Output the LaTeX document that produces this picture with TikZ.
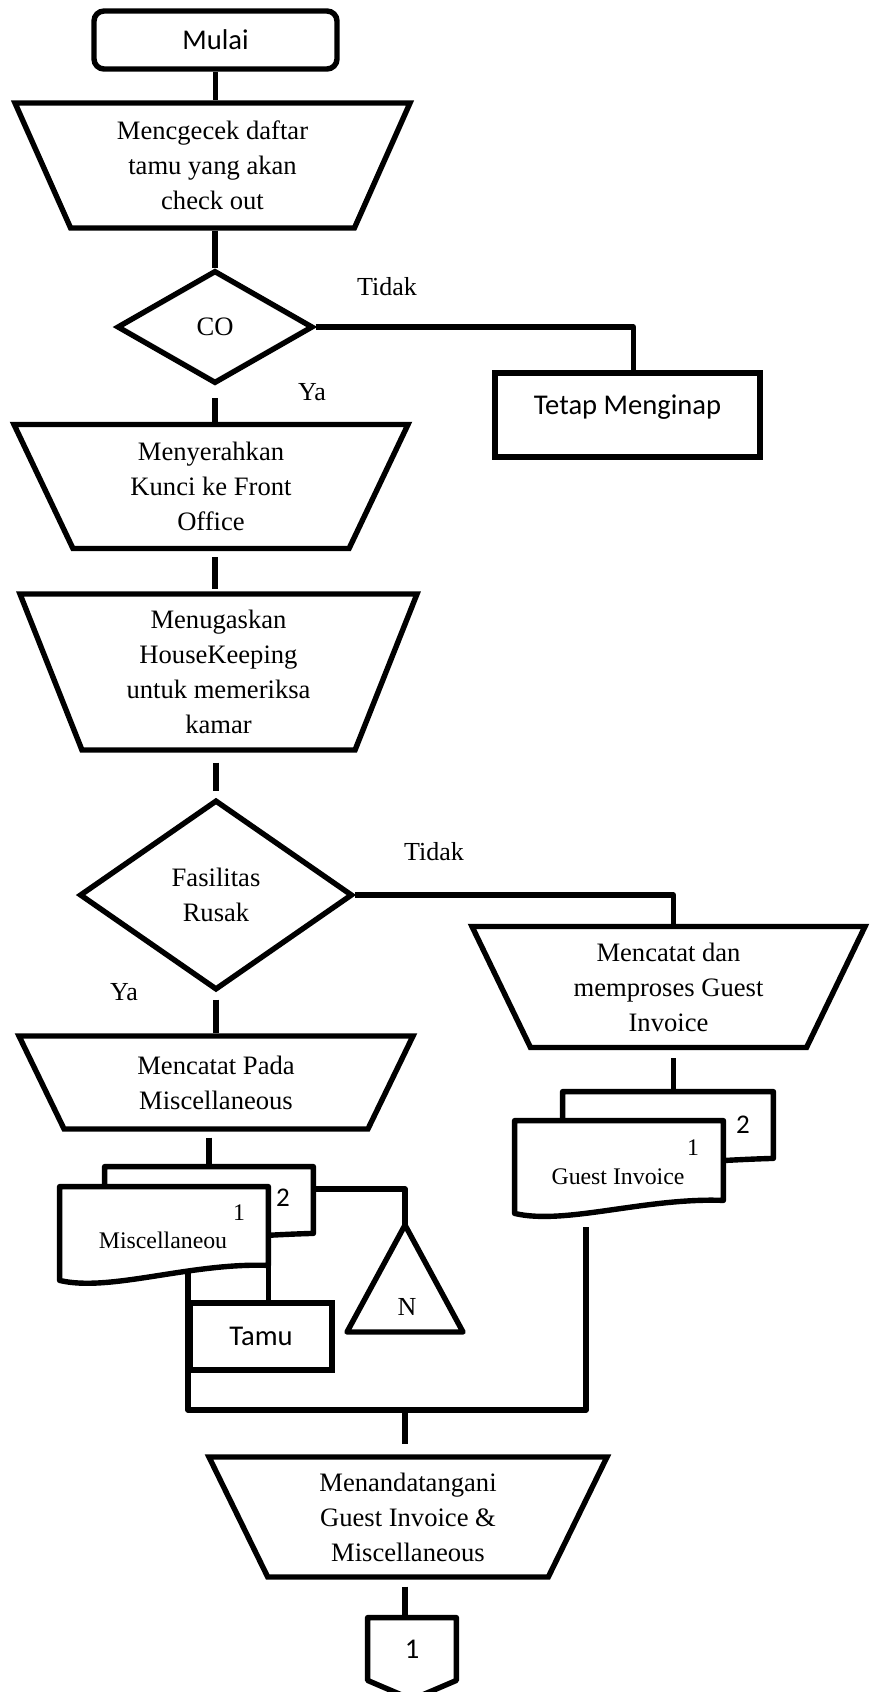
\documentclass[tikz,border=0pt]{standalone}
\usepackage{fontspec}
\setmainfont{Liberation Serif}
\newfontfamily\calfont{Carlito}
\usetikzlibrary{shapes.geometric,calc}
\begin{document}
\begin{tikzpicture}[x=0.5pt,y=-0.5pt,
  ln/.style={line width=2.7pt, line join=round},
  proc/.style={draw, line width=2.7pt, trapezium, trapezium stretches body, shape border rotate=180,
    inner sep=0pt, align=center, font=\fontsize{13.3}{17.5}\selectfont},
  dec/.style={draw, line width=2.7pt, diamond, inner sep=0pt, align=center,
    font=\fontsize{13.3}{17.5}\selectfont},
  boxn/.style={draw, line width=2.7pt, rectangle, inner sep=0pt, align=center,
    font=\calfont\fontsize{14.3}{17}\selectfont},
  lbl/.style={inner sep=0pt, font=\fontsize{13}{15}\selectfont},
  smalltxt/.style={inner sep=0pt, font=\fontsize{11.9}{14}\selectfont},
  numtxt/.style={inner sep=0pt, font=\calfont\fontsize{13.5}{15}\selectfont},
  area/.style={inner sep=0pt, rectangle},
  docline/.style={ln, fill=white}
]
\useasboundingbox (0,0) rectangle (873,1692);

% --- main column ---
\node[boxn, rounded corners=5pt, minimum width=121.5pt, minimum height=29pt] (mulai) at (215.5,40) {Mulai};
\node[proc, minimum width=197.5pt, minimum height=62.5pt, trapezium angle=58] (t1) at (212.5,165.5)
  {Mencgecek daftar\\tamu yang akan\\check out};
\node[dec, minimum width=98pt, minimum height=56.5pt] (co) at (215,327) {CO};
\node[boxn, minimum width=132.5pt, minimum height=42pt] (tetap) at (627.5,415) {\raisebox{10pt}{Tetap Menginap}};
\node[lbl] (tidak1) at (387,287) {Tidak};
\node[lbl] (ya1) at (312,392) {Ya};
\node[proc, minimum width=197pt, minimum height=62pt, trapezium angle=56.4] (t2) at (211,486.5)
  {Menyerahkan\\Kunci ke Front\\Office};
\node[proc, minimum width=198.5pt, minimum height=78pt, trapezium angle=63.4] (t3) at (218.5,672)
  {Menugaskan\\HouseKeeping\\untuk memeriksa\\kamar};
\node[dec, minimum width=136.5pt, minimum height=95pt] (fas) at (216,895) {Fasilitas\\Rusak};
\node[lbl] (tidak2) at (434,852) {Tidak};
\node[lbl] (ya2) at (124,992) {Ya};
\node[proc, minimum width=196.5pt, minimum height=60.5pt, trapezium angle=56.6] (t4) at (668.5,987)
  {Mencatat dan\\memproses Guest\\Invoice};
\node[proc, minimum width=197pt, minimum height=46.5pt, trapezium angle=50] (t5) at (216,1082.5)
  {Mencatat Pada\\Miscellaneous};
\node[proc, minimum width=199pt, minimum height=60pt, trapezium angle=56.5] (t6) at (408,1517)
  {Menandatangani\\Guest Invoice \&\\Miscellaneous};

% --- document areas ---
\node[area, minimum width=104pt, minimum height=33pt] (misc2) at (209,1200) {};
\node[area, minimum width=104pt, minimum height=39pt] (misc) at (164,1226) {};
\node[area, minimum width=105pt, minimum height=33pt] (gi2) at (668,1125) {};
\node[area, minimum width=104pt, minimum height=39.5pt] (gi) at (619,1160.5) {};
\node[boxn, minimum width=71pt, minimum height=33.5pt] (tamu) at (261,1336.5) {Tamu};
\coordinate (napex) at (405,1225);
\coordinate (jl) at (188,1410);
\coordinate (jm) at (405,1410);
\coordinate (jr) at (586,1410);
\node[area, minimum width=44pt, minimum height=31pt, font=\calfont\fontsize{14.3}{17}\selectfont] (conn) at (412,1649) {1};

% --- connectors ---
\draw[ln] (mulai.south) -- (mulai.south |- t1.north);
\draw[ln] (t1.south -| co.north) -- (co.north);
\draw[ln] (co.east) -| ([xshift=3pt]tetap.north);
\draw[ln] ([yshift=-6pt]co.south) -- (co.south |- t2.north);
\draw[ln] ([yshift=-3pt]t2.south -| co.south) -- ([yshift=1pt]t3.north -| co.south);
\draw[ln] ([yshift=-5pt]t3.south -| fas.north) -- ([yshift=3pt]fas.north);
\draw[ln] (fas.east) -| ([xshift=2.5pt]t4.north);
\draw[ln] ([yshift=-3.5pt]fas.south) -- (fas.south |- t5.north);
\draw[ln] ([xshift=2.5pt,yshift=-4pt]t4.south) -- ([xshift=2.5pt]t4.south |- gi2.north);
\draw[ln] ([yshift=-3pt]t5.south -| misc2.north) -- (misc2.north);
\draw[ln] ([yshift=5.5pt]misc2.east) -| (napex);
\draw[ln] (misc.south east) -- (misc.south east |- tamu.north);
\draw[ln] (jl |- misc.south) -- (jl) -- (jr) -- ([yshift=-13.5pt]gi.south -| jr);
\draw[ln] (jm) -- ([yshift=5pt]jm |- t6.north);
\draw[ln] ([yshift=-3.5pt]t6.south -| jm) -- (jm |- conn.north);

% --- documents (drawn on top) ---
\draw[docline] (misc2.north west) -- (misc2.north east) -- (misc2.south east)
  .. controls ($(misc2.south east)+(-40,1)$) and ($(misc2.south west)+(80,6)$) .. ($(misc2.south west)+(0,17)$) -- cycle;
\draw[docline] (misc.north west) -- (misc.north east) -- (misc.south east)
  .. controls ($(misc.south east)+(-78,-3)$) and ($(misc.south west)+(50,27)$) .. ($(misc.south west)+(0,15)$) -- cycle;
\draw[docline] (gi2.north west) -- (gi2.north east) -- (gi2.south east)
  .. controls ($(gi2.south east)+(-40,1)$) and ($(gi2.south west)+(80,6)$) .. ($(gi2.south west)+(0,17)$) -- cycle;
\draw[docline] (gi.north west) -- (gi.north east) -- (gi.south east)
  .. controls ($(gi.south east)+(-78,-3)$) and ($(gi.south west)+(50,25)$) .. ($(gi.south west)+(0,13)$) -- cycle;

\node[smalltxt] (misctxt) at (163,1240) {Miscellaneou};
\node[smalltxt] (misc1) at (239,1213) {1};
\node[numtxt] (misc2n) at (283,1198) {2};
\node[smalltxt] (gitxt) at (618,1177) {Guest Invoice};
\node[smalltxt] (gi1) at (693,1148) {1};
\node[numtxt] (gi2n) at (743,1125) {2};

% --- N triangle ---
\draw[ln] (napex) -- (347,1332) -- (463,1332) -- cycle;
\node[lbl] (ntxt) at (407,1307) {N};

% --- off-page connector (point runs off the page, as in the reference) ---
\draw[ln] (conn.south west) -- (conn.north west) -- (conn.north east) -- (conn.south east)
  -- ($(conn.south)+(0,19)$) -- cycle;
\end{tikzpicture}
\end{document}
